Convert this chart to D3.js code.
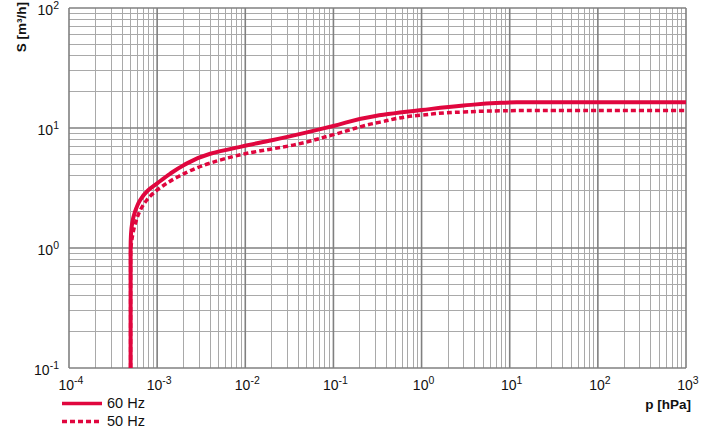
<!DOCTYPE html>
<html>
<head>
<meta charset="utf-8">
<script src="https://cdn.jsdelivr.net/npm/d3@7"></script>
<style>
  html, body { margin: 0; padding: 0; background: #fff; }
  svg { display: block; font-family: "Liberation Sans", Arial, Helvetica, sans-serif; }
</style>
</head>
<body>
<svg id="chart" width="712" height="428"></svg>
<script>
// ---- data ----
const xTicks = [1e-4, 1e-3, 1e-2, 1e-1, 1e0, 1e1, 1e2, 1e3];
const xTickExp = ["-4", "-3", "-2", "-1", "0", "1", "2", "3"];
const yTicks = [1e-1, 1e0, 1e1, 1e2];
const yTickExp = ["-1", "0", "1", "2"];

const p60 = [5.0e-4, 5.0e-4, 5.05e-4, 5.2e-4, 5.6e-4, 6.4e-4, 7.8e-4, 1.0e-3, 1.4e-3, 2.0e-3, 4.0e-3, 9.0e-3, 2.0e-2, 5.0e-2, 1.0e-1, 3.0e-1, 1.0, 3.0, 8.0, 1.2e1, 1.0e2, 1.0e3];
const S60 = [0.1, 1.0, 1.3, 1.6, 2.0, 2.5, 3.0, 3.45, 4.15, 4.9, 6.1, 7.0, 7.9, 9.2, 10.4, 12.6, 14.1, 15.4, 16.2, 16.4, 16.4, 16.4];

const p50 = [5.0e-4, 5.0e-4, 5.15e-4, 5.4e-4, 5.8e-4, 6.4e-4, 7.6e-4, 9.0e-4, 1.2e-3, 1.7e-3, 4.0e-3, 1.05e-2, 3.5e-2, 1.0e-1, 3.4e-1, 1.0, 3.0, 8.0, 2.0e1, 1.0e2, 1.0e3];
const S50 = [0.1, 0.9, 1.15, 1.4, 1.7, 2.05, 2.5, 2.85, 3.35, 3.9, 5.1, 6.15, 7.2, 8.8, 11.2, 12.8, 13.6, 13.9, 14.0, 14.0, 14.0];

const seriesNames = ["60 Hz", "50 Hz"];

// ---- layout ----
const svg = d3.select("#chart");
const mLeft = 69, mRight = 686, mTop = 8, mBottom = 368;
const red = "#e0063e";

const x = d3.scaleLog().domain([1e-4, 1e3]).range([mLeft, mRight]);
const y = d3.scaleLog().domain([0.1, 100]).range([mBottom, mTop]);

// minor gridlines
const minorX = [], minorY = [];
for (let e = -4; e < 3; e++) for (let m = 2; m <= 9; m++) minorX.push(m * Math.pow(10, e));
for (let e = -1; e < 2; e++) for (let m = 2; m <= 9; m++) minorY.push(m * Math.pow(10, e));

const grid = svg.append("g");
grid.selectAll("line.mx").data(minorX).join("line")
  .attr("x1", d => x(d)).attr("x2", d => x(d)).attr("y1", mTop).attr("y2", mBottom)
  .attr("stroke", "#a9a9a9").attr("stroke-width", 1).attr("shape-rendering", "crispEdges");
grid.selectAll("line.my").data(minorY).join("line")
  .attr("y1", d => y(d)).attr("y2", d => y(d)).attr("x1", mLeft).attr("x2", mRight)
  .attr("stroke", "#a9a9a9").attr("stroke-width", 1).attr("shape-rendering", "crispEdges");
grid.selectAll("line.Mx").data(xTicks).join("line")
  .attr("x1", d => x(d)).attr("x2", d => x(d)).attr("y1", mTop).attr("y2", mBottom)
  .attr("stroke", "#808080").attr("stroke-width", 1.6);
grid.selectAll("line.My").data(yTicks).join("line")
  .attr("y1", d => y(d)).attr("y2", d => y(d)).attr("x1", mLeft).attr("x2", mRight)
  .attr("stroke", "#808080").attr("stroke-width", 1.6);

// curves
const d60 = p60.map((p, i) => [p, S60[i]]);
const d50 = p50.map((p, i) => [p, S50[i]]);
const lineY = d3.line().x(d => x(d[0])).y(d => y(d[1])).curve(d3.curveMonotoneY);

svg.append("path").datum(d50).attr("d", lineY)
  .attr("fill", "none").attr("stroke", red).attr("stroke-width", 3.5)
  .attr("stroke-dasharray", "5,3");
svg.append("path").datum(d60).attr("d", lineY)
  .attr("fill", "none").attr("stroke", red).attr("stroke-width", 4);

// tick labels
function sup(sel, exp) {
  sel.append("tspan").text("10");
  sel.append("tspan").attr("dy", -6).attr("font-size", 10.5).text(exp);
}
yTicks.forEach((t, i) => {
  const tx = svg.append("text").attr("x", 59).attr("y", y(t) + 7)
    .attr("text-anchor", "end").attr("font-size", 14).attr("fill", "#111");
  sup(tx, yTickExp[i]);
});
xTicks.forEach((t, i) => {
  const tx = svg.append("text").attr("x", x(t) + 2).attr("y", 390)
    .attr("text-anchor", "middle").attr("font-size", 14).attr("fill", "#111");
  sup(tx, xTickExp[i]);
});

// axis titles
svg.append("text").attr("transform", "translate(26,2) rotate(-90)")
  .attr("text-anchor", "end").attr("font-size", 13.5).attr("font-weight", "bold").attr("fill", "#111")
  .text("S [m³/h]");
svg.append("text").attr("x", 691).attr("y", 409)
  .attr("text-anchor", "end").attr("font-size", 13.5).attr("font-weight", "bold").attr("fill", "#111")
  .text("p [hPa]");

// legend
const leg = svg.append("g");
leg.append("line").attr("x1", 62).attr("x2", 102).attr("y1", 403.5).attr("y2", 403.5)
  .attr("stroke", red).attr("stroke-width", 3.5);
leg.append("line").attr("x1", 62).attr("x2", 102).attr("y1", 421.5).attr("y2", 421.5)
  .attr("stroke", red).attr("stroke-width", 3.5).attr("stroke-dasharray", "5,3");
leg.append("text").attr("x", 107).attr("y", 408).attr("font-size", 14.5).attr("fill", "#111").text(seriesNames[0]);
leg.append("text").attr("x", 107).attr("y", 426).attr("font-size", 14.5).attr("fill", "#111").text(seriesNames[1]);
</script>
</body>
</html>
